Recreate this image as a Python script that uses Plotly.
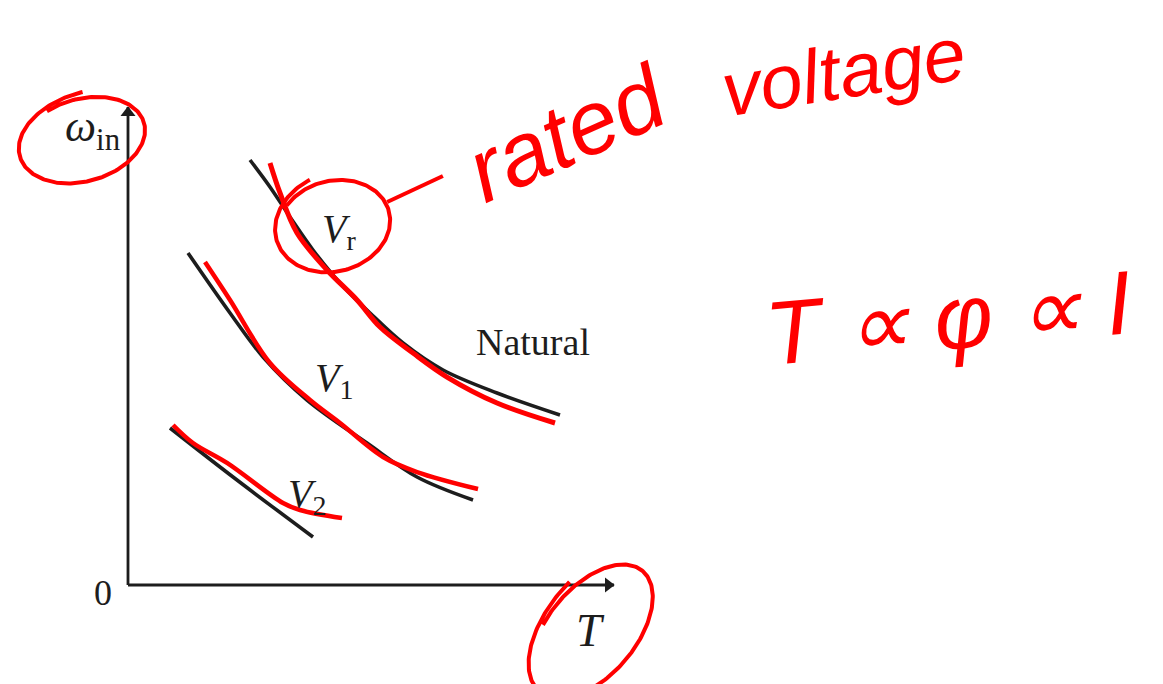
import numpy as np
import plotly.graph_objects as go

# Printed speed-torque curves (T, omega) in chart units
natural_T = [2.542, 2.958, 3.375, 3.854, 4.417, 5.042, 5.729, 6.563, 7.688, 9.0]
natural_w = [8.854, 8.292, 7.667, 6.979, 6.292, 5.667, 5.042, 4.479, 4.0, 3.542]
v1_T = [1.25, 2.125, 2.813, 3.729, 4.979, 6.021, 7.188]
v1_w = [6.917, 5.667, 4.75, 3.854, 2.958, 2.25, 1.771]
v2_T = [0.875, 2.188, 3.854]
v2_w = [3.271, 2.25, 1.0]

# Axis extents (arrow tips)
axis_T_max = 10.125
axis_w_max = 9.96

# Red pen traces drawn over the curves
pen_vr_T = [2.958, 3.167, 3.521, 4.146, 4.771, 5.25, 5.938, 6.646, 7.688, 8.896]
pen_vr_w = [8.792, 8.167, 7.333, 6.563, 5.938, 5.375, 4.833, 4.333, 3.792, 3.375]
pen_v1_T = [1.604, 2.125, 2.958, 3.792, 4.417, 5.313, 6.021, 7.292]
pen_v1_w = [6.729, 5.938, 4.625, 3.854, 3.375, 2.667, 2.354, 2.0]
pen_v2_T = [0.938, 1.354, 2.063, 3.229, 3.583, 4.458]
pen_v2_w = [3.333, 2.958, 2.542, 1.708, 1.563, 1.396]
pen_link_T = [5.40, 6.56]
pen_link_w = [7.98, 8.52]

# Pen loops: centre T, centre omega, semi-axes, tilt (deg), stroke end angle (deg)
loop_names = ["omega_loop", "vr_loop", "t_loop"]
loop_cT = [-0.94, 4.29, 9.667]
loop_cw = [9.27, 7.48, -0.958]
loop_a = [1.35, 1.21, 1.667]
loop_b = [0.875, 0.96, 0.94]
loop_tilt = [15.6, 15.0, 50.0]
loop_end = [80.0, 100.0, 75.0]

# Printed labels
label_text = ["<i>ω</i><sub>in</sub>", "0", "<i>T</i>", "<i>V</i><sub>r</sub>",
              "Natural", "<i>V</i><sub>1</sub>", "<i>V</i><sub>2</sub>"]
label_T = [-0.75, -0.52, 9.625, 4.40, 8.44, 4.30, 3.72]
label_w = [9.48, -0.167, -0.9375, 7.38, 5.06, 4.28, 1.85]
label_size = [44, 36, 46, 40, 38, 40, 40]

# Handwritten notes
note_text = ["rated", "voltage", "T ∝ φ ∝ I"]
note_T = [9.15, 14.9, 17.1]
note_w = [9.42, 10.69, 5.56]
note_angle = [-24, -9, -5]
note_size = [90, 76, 90]

INK = "#1d1d1d"
PEN = "#ff0000"

fig = go.Figure()

# Axes as lines with triangular heads
fig.add_trace(go.Scatter(x=[0, 0], y=[axis_w_max, 0], mode="lines",
                         line=dict(color=INK, width=2.8),
                         hoverinfo="skip", showlegend=False))
fig.add_trace(go.Scatter(x=[0, axis_T_max], y=[0, 0], mode="lines",
                         line=dict(color=INK, width=2.8),
                         hoverinfo="skip", showlegend=False))
fig.add_trace(go.Scatter(x=[0], y=[axis_w_max - 0.12], mode="markers",
                         marker=dict(symbol="triangle-up", size=13, color=INK),
                         hoverinfo="skip", showlegend=False))
fig.add_trace(go.Scatter(x=[axis_T_max - 0.12], y=[0], mode="markers",
                         marker=dict(symbol="triangle-right", size=13, color=INK),
                         hoverinfo="skip", showlegend=False))

for xs, ys in [(natural_T, natural_w), (v1_T, v1_w), (v2_T, v2_w)]:
    fig.add_trace(go.Scatter(x=xs, y=ys, mode="lines",
                             line=dict(color=INK, width=3.6, shape="spline"),
                             hoverinfo="skip", showlegend=False))

for xs, ys, w in [(pen_vr_T, pen_vr_w, 5), (pen_v1_T, pen_v1_w, 4.5),
                  (pen_v2_T, pen_v2_w, 4.5), (pen_link_T, pen_link_w, 4)]:
    fig.add_trace(go.Scatter(x=xs, y=ys, mode="lines",
                             line=dict(color=PEN, width=w, shape="spline"),
                             hoverinfo="skip", showlegend=False))

# Open pen loops with a short overshooting tail
t = np.linspace(0, 1, 240)
for name, cx, cy, a, b, tilt, end in zip(loop_names, loop_cT, loop_cw, loop_a,
                                         loop_b, loop_tilt, loop_end):
    theta = np.radians(end + (1 - t) * 395.0)
    r = 0.98 + 0.14 * t ** 6
    phi = np.radians(tilt)
    px = a * r * np.cos(theta)
    py = b * r * np.sin(theta)
    xs = cx + px * np.cos(phi) - py * np.sin(phi)
    ys = cy + px * np.sin(phi) + py * np.cos(phi)
    fig.add_trace(go.Scatter(x=xs, y=ys, mode="lines", name=name,
                             line=dict(color=PEN, width=4),
                             hoverinfo="skip", showlegend=False))

for txt, x, y, s in zip(label_text, label_T, label_w, label_size):
    fig.add_annotation(x=x, y=y, xref="x", yref="y", text=txt, showarrow=False,
                       xanchor="center", yanchor="middle",
                       font=dict(family="Liberation Serif", size=s, color=INK))

for txt, x, y, ang, s in zip(note_text, note_T, note_w, note_angle, note_size):
    fig.add_annotation(x=x, y=y, xref="x", yref="y", text=txt, showarrow=False,
                       textangle=ang, xanchor="center", yanchor="middle",
                       font=dict(family="Liberation Sans", size=s, color=PEN,
                                 style="italic"))

fig.update_layout(
    width=1163, height=684,
    margin=dict(l=0, r=0, t=0, b=0),
    paper_bgcolor="white", plot_bgcolor="white",
    xaxis=dict(range=[-2.6667, 21.5625], visible=False, fixedrange=True),
    yaxis=dict(range=[-2.0625, 12.1875], visible=False, fixedrange=True),
)

fig.write_html("out.html")
